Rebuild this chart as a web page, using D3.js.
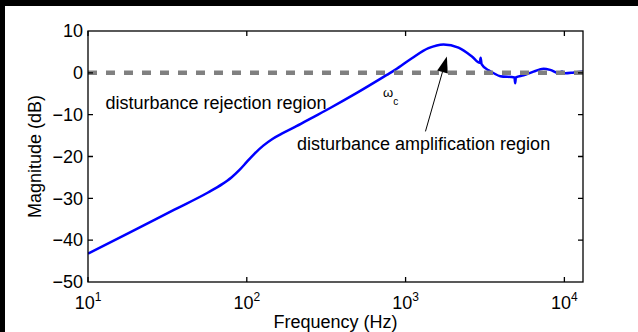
<!DOCTYPE html>
<html>
<head>
<meta charset="utf-8">
<script src="https://cdn.jsdelivr.net/npm/d3@7"></script>
<style>
  html, body { margin: 0; padding: 0; background: #fff; }
  svg { display: block; font-family: "Liberation Sans", Arial, Helvetica, sans-serif; }
</style>
</head>
<body>
<figure id="bode" style="margin:0"></figure>
<script>
// Magnitude response (Hz, dB)
const freqHz = [10, 18, 35, 57, 70, 80, 90, 100, 112, 127, 145, 165, 200, 250, 335, 493, 762, 859,
  1096, 1394, 1733, 2154, 2617, 2930, 2970, 3010, 3336, 3590, 3945, 4850, 4900, 4950,
  5535, 6394, 7395, 8147, 9205, 9661, 10140, 11500, 13100];
const magDb = [-43.2, -38.3, -32.7, -28.6, -26.6, -25.0, -23.2, -21.3, -19.3, -17.4, -15.8, -14.6, -13.0, -11.0, -8.4, -4.8, -0.5, 0.7,
  3.5, 5.9, 6.8, 6.0, 3.9, 2.4, 3.6, 2.1, 0.6, -0.1, -0.8, -1.1, -2.5, -1.1,
  -0.6, 0.3, 1.0, 0.7, -0.1, 0.3, -0.1, 0.1, 0.3];

const xTickExp = [1, 2, 3, 4];
const yTicks = [-50, -40, -30, -20, -10, 0, 10];
const xDomain = [10, 13100];
const yDomain = [-50, 10];

const width = 638;
const height = 332;
const margin = { left: 88, right: 55, top: 31, bottom: 50 };
const font = 18;

const svg = d3.select('figure#bode')
  .append('svg')
  .attr('width', width)
  .attr('height', height);

svg.append('rect').attr('width', width).attr('height', height).attr('fill', '#fff');
// black frame strip on the top and left edge
svg.append('rect').attr('width', width).attr('height', 6).attr('fill', '#000');
svg.append('rect').attr('width', 5).attr('height', height).attr('fill', '#000');

const x = d3.scaleLog()
  .domain(xDomain)
  .range([margin.left, width - margin.right]);

const y = d3.scaleLinear()
  .domain(yDomain)
  .range([height - margin.bottom, margin.top]);

const x0 = x.range()[0], x1 = x.range()[1];
const y0 = y.range()[0], y1 = y.range()[1];

svg.append('clipPath').attr('id', 'plot')
  .append('rect')
  .attr('x', x0).attr('y', y1)
  .attr('width', x1 - x0).attr('height', y0 - y1);

// curve
const pts = freqHz.map((f, i) => [f, magDb[i]]);
const line = d3.line()
  .x(d => x(d[0]))
  .y(d => y(d[1]))
  .curve(d3.curveMonotoneX);

svg.append('path')
  .datum(pts)
  .attr('clip-path', 'url(#plot)')
  .attr('d', line)
  .attr('fill', 'none')
  .attr('stroke', '#0000ff')
  .attr('stroke-width', 2.5)
  .attr('stroke-linejoin', 'round');

// 0 dB reference
svg.append('line')
  .attr('x1', x0).attr('x2', x1 + 1)
  .attr('y1', y(0)).attr('y2', y(0))
  .attr('stroke', '#808080')
  .attr('stroke-width', 4.5)
  .attr('stroke-dasharray', '9,9');

// box and inward ticks
const tickLen = 5;
const xTickVals = xTickExp.map(e => Math.pow(10, e));
const axisG = svg.append('g')
  .attr('stroke', '#000')
  .attr('stroke-width', 1.3)
  .attr('fill', 'none');

axisG.append('rect')
  .attr('x', x0).attr('y', y1)
  .attr('width', x1 - x0).attr('height', y0 - y1);

axisG.selectAll('.xt')
  .data(xTickVals)
  .enter()
  .append('path')
  .attr('d', d => 'M' + x(d) + ',' + y0 + 'v' + (-tickLen) + 'M' + x(d) + ',' + y1 + 'v' + tickLen);

axisG.selectAll('.yt')
  .data(yTicks.slice(1, -1))
  .enter()
  .append('path')
  .attr('d', d => 'M' + x0 + ',' + y(d) + 'h' + tickLen + 'M' + x1 + ',' + y(d) + 'h' + (-tickLen));

// tick labels
svg.selectAll('.yl')
  .data(yTicks)
  .enter()
  .append('text')
  .attr('x', x0 - 5)
  .attr('y', d => y(d))
  .attr('dy', '0.35em')
  .attr('text-anchor', 'end')
  .style('font-size', font + 'px')
  .text(d => d < 0 ? '\u2212' + Math.abs(d) : String(d));

const xl = svg.selectAll('.xl')
  .data(xTickExp)
  .enter()
  .append('text')
  .attr('x', e => x(Math.pow(10, e)))
  .attr('y', y0 + 27)
  .attr('text-anchor', 'middle')
  .style('font-size', font + 'px');
xl.append('tspan').text('10');
xl.append('tspan')
  .attr('dy', -8)
  .style('font-size', '12px')
  .text(e => e);

// axis titles
svg.append('text')
  .attr('x', (x0 + x1) / 2)
  .attr('y', 328)
  .attr('text-anchor', 'middle')
  .style('font-size', font + 'px')
  .text('Frequency (Hz)');

svg.append('text')
  .attr('transform', 'translate(41,' + ((y0 + y1) / 2) + ') rotate(-90)')
  .attr('text-anchor', 'middle')
  .style('font-size', font + 'px')
  .text('Magnitude (dB)');

// annotations
svg.append('text')
  .attr('x', 105.5).attr('y', 108.5)
  .style('font-size', font + 'px')
  .text('disturbance rejection region');

svg.append('text')
  .attr('x', 297).attr('y', 149.5)
  .style('font-size', font + 'px')
  .text('disturbance amplification region');

const wc = svg.append('text')
  .attr('x', 383).attr('y', 97)
  .style('font-size', '13px');
wc.append('tspan').text('\u03c9');
wc.append('tspan').attr('dy', 7.5).style('font-size', '10px').text('c');

// arrow to the peak
const tail = [1334, -14.0];
const tip = [1820, 3.9];
const tx = x(tail[0]), ty = y(tail[1]);
const hx = x(tip[0]), hy = y(tip[1]);
const ang = Math.atan2(hy - ty, hx - tx);
const headLen = 16, headW = 5.5;
const bx = hx - headLen * Math.cos(ang), by = hy - headLen * Math.sin(ang);

svg.append('line')
  .attr('x1', tx).attr('y1', ty)
  .attr('x2', bx).attr('y2', by)
  .attr('stroke', '#000')
  .attr('stroke-width', 1);

svg.append('path')
  .attr('d', 'M' + hx + ',' + hy +
    'L' + (bx + headW * Math.sin(ang)) + ',' + (by - headW * Math.cos(ang)) +
    'L' + (bx - headW * Math.sin(ang)) + ',' + (by + headW * Math.cos(ang)) + 'Z')
  .attr('fill', '#000');
</script>
</body>
</html>
